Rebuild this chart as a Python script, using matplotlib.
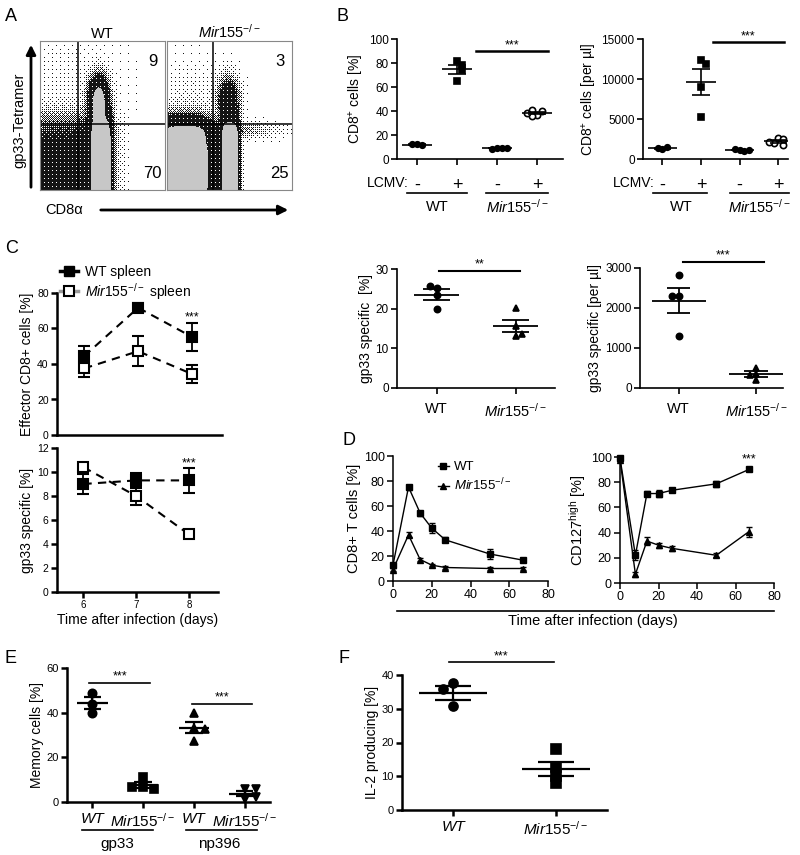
import numpy as np
import matplotlib
matplotlib.use('Agg')
import matplotlib.pyplot as plt
from matplotlib.patches import FancyArrowPatch
from matplotlib.lines import Line2D

plt.rcParams['font.family'] = ['Liberation Sans', 'DejaVu Sans']
plt.rcParams['mathtext.fontset'] = 'custom'
plt.rcParams['mathtext.rm'] = 'Liberation Sans'
plt.rcParams['mathtext.it'] = 'Liberation Sans:italic'
plt.rcParams['mathtext.bf'] = 'Liberation Sans:bold'

MIR = r'$\mathit{Mir155}^{-/-}$'

# ---- A: flow populations (cx, cy, sx, sy, peak, shape power), plot units 0..1
flow_wt = [(0.17, 0.17, 0.33, 0.28, 0.14, 4),
           (0.49, 0.15, 0.07, 0.27, 1.0, 4),
           (0.47, 0.60, 0.045, 0.09, 0.8, 2),
           (0.20, 0.72, 0.30, 0.25, 0.008, 2),
           (0.45, 0.42, 0.08, 0.05, 0.06, 2)]
flow_ko = [(0.13, 0.13, 0.17, 0.26, 1.0, 4),
           (0.505, 0.15, 0.06, 0.26, 1.0, 4),
           (0.37, 0.15, 0.05, 0.25, 0.12, 4),
           (0.49, 0.60, 0.05, 0.09, 0.30, 2),
           (0.18, 0.58, 0.20, 0.18, 0.014, 2),
           (0.28, 0.40, 0.30, 0.035, 0.12, 2)]
gate_x = [0.30, 0.37]
gate_y = 0.44
quad_wt = ['9', '70']
quad_ko = ['3', '25']

# ---- B
lcmv = ['-', '+', '-', '+']
b_pct = [[12.3, 11.6, 12.1], [82, 78, 74, 65], [8.8, 9.2, 8.6, 9.0], [37, 40, 41, 36, 38]]
b_abs = [[1250, 1450, 1350], [12400, 11900, 9000, 5300], [1100, 1000, 1200, 1150],
         [2600, 2500, 2000, 1800, 2100]]

# ---- C (gp33 specific)
gp_pct_wt = [25.1, 25.7, 23.5, 19.9]
gp_pct_ko = [20.1, 15.7, 13.2, 13.7]
gp_abs_wt = [2830, 2300, 2300, 1300]
gp_abs_ko = [510, 360, 330, 190]

days_c = [6, 7, 8]
eff_wt = [44.4, 71.7, 55.2]
eff_wt_err = [6, 2.5, 8]
eff_ko = [37.5, 47.2, 34.3]
eff_ko_err = [5, 8.5, 5]
gp_wt = [9.0, 9.3, 9.3]
gp_wt_err = [0.8, 0.6, 1.05]
gp_ko = [10.4, 8.0, 4.8]
gp_ko_err = [0.35, 0.75, 0.2]

# ---- D
days_d = [0, 8, 14, 20, 27, 50, 67]
cd8_wt = [12.7, 75.2, 54.4, 42.3, 32.9, 21.6, 16.7]
cd8_wt_err = [2, 2, 2, 4, 2, 4, 1]
cd8_ko = [9.2, 36.9, 17.2, 12.7, 10.8, 10, 10]
cd8_ko_err = [1, 2, 1.5, 1, 1, 1, 1]
cd127_wt = [99, 22, 71, 71, 73.6, 78.7, 90.1]
cd127_wt_err = [1, 4, 2, 3, 1.5, 2.5, 1]
cd127_ko = [98, 7, 33.3, 30, 27.5, 22, 40.8]
cd127_ko_err = [1, 2, 3, 2, 2, 1.5, 4]

# ---- E
mem_labels = ['WT', MIR, 'WT', MIR]
mem_groups = ['gp33', 'np396']
mem = [[49, 44, 39.8], [11, 6.9, 5.7, 6.9], [39.8, 33, 32.6, 27.5], [5.6, 5.6, 1.5, 2.2]]

# ---- F
il2_labels = ['WT', MIR]
il2 = [[37.5, 35.8, 30.8], [18, 12.6, 10.1, 7.9]]

W, H = 800, 855
fig = plt.figure(figsize=(8, 8.55), dpi=100)


def px_axes(x0, y0, x1, y1):
    return fig.add_axes([x0 / W, 1 - y1 / H, (x1 - x0) / W, (y1 - y0) / H])


def ftext(x, y, s, **kw):
    fig.text(x / W, 1 - y / H, s, **kw)


def style(ax, lw=1.2, fs=8.5):
    for s in ['top', 'right']:
        ax.spines[s].set_visible(False)
    for s in ['left', 'bottom']:
        ax.spines[s].set_linewidth(lw)
    ax.tick_params(width=lw, length=4, labelsize=fs, pad=2)


def dots(ax, xpos, vals, marker, ms, fc='black', dx=0.1, mean_w=0.3, cap_w=0.17, lw=1.5):
    vals = np.asarray(vals, float)
    lo, hi = ax.get_ylim()
    seq = [0, 1, -1, 2, -2, 3]
    offs = []
    for i, v in enumerate(vals):
        n = int(np.sum(np.abs(vals[:i] - v) < 0.045 * (hi - lo)))
        offs.append(seq[n] * dx)
    m = vals.mean()
    s = vals.std(ddof=1) / np.sqrt(len(vals))
    ax.plot(xpos + np.array(offs), vals, ls='none', marker=marker, ms=ms, mfc=fc, mec='k',
            mew=1.2, zorder=3, clip_on=False)
    ax.hlines(m, xpos - mean_w, xpos + mean_w, color='k', lw=lw, zorder=4)
    ax.hlines([m - s, m + s], xpos - cap_w, xpos + cap_w, color='k', lw=lw, zorder=4)
    ax.vlines(xpos, m - s, m + s, color='k', lw=lw, zorder=4)


def sig(ax, x0, x1, y, txt, fs=9, lw=1.5):
    ax.plot([x0, x1], [y, y], color='k', lw=lw, clip_on=False)
    ax.text((x0 + x1) / 2, y, txt, ha='center', va='bottom', fontsize=fs)


def italic_tick(ax, idx):
    for i in idx:
        ax.get_xticklabels()[i].set_style('italic')


# ================= A =================
def bayer(n):
    m = np.array([[0, 2], [3, 1]])
    while m.shape[0] < n:
        m = np.block([[4 * m, 4 * m + 2], [4 * m + 3, 4 * m + 1]])
    return (m + 0.5) / m.size


def flow(ax, pops, gx, nums, title, nx=125, ny=149):
    X, Y = np.meshgrid((np.arange(nx) + 0.5) / nx, (np.arange(ny) + 0.5) / ny)
    D = np.zeros_like(X)
    for cx, cy, sx, sy, pk, p in pops:
        D += pk * np.exp(-0.5 * (np.abs((X - cx) / sx) ** p + np.abs((Y - cy) / sy) ** p))
    # zebra style: dots thin out at low density, dark edge, light grey core
    thr = np.tile(bayer(8), (ny // 8 + 1, nx // 8 + 1))[:ny, :nx]
    prob = np.clip(D / 0.14, 0, 0.93)
    G = np.where(prob > thr, 0.08, 1.0)
    G = np.where(D >= 0.5, 0.78, G)
    ax.imshow(G, extent=(0, 1, 0, 1), origin='lower', cmap='gray', vmin=0, vmax=1,
              aspect='auto', interpolation='nearest')
    ax.axvline(gx, color='k', lw=1.1)
    ax.axhline(gate_y, color='k', lw=1.1)
    ax.set_xlim(0, 1)
    ax.set_ylim(0, 1)
    ax.set_xticks([])
    ax.set_yticks([])
    for s in ax.spines.values():
        s.set_color('#888888')
        s.set_linewidth(0.8)
    ax.text(0.9, 0.86, nums[0], ha='center', va='center', fontsize=12)
    ax.text(0.9, 0.11, nums[1], ha='center', va='center', fontsize=12)
    ax.set_title(title, fontsize=10.5, pad=2)


axA1 = px_axes(40, 41, 165, 190)
flow(axA1, flow_wt, gate_x[0], quad_wt, 'WT')
axA2 = px_axes(167, 41, 292, 190)
flow(axA2, flow_ko, gate_x[1], quad_ko, MIR)

fig.add_artist(FancyArrowPatch((31 / W, 1 - 190 / H), (31 / W, 1 - 42 / H),
                               transform=fig.transFigure, arrowstyle='-|>',
                               mutation_scale=14, lw=2, color='k'))
ftext(19, 120, 'gp33-Tetramer', rotation=90, ha='center', va='center', fontsize=10.5)
fig.add_artist(FancyArrowPatch((98 / W, 1 - 210 / H), (291 / W, 1 - 210 / H),
                               transform=fig.transFigure, arrowstyle='-|>',
                               mutation_scale=14, lw=2, color='k'))
ftext(64, 210, 'CD8α', ha='center', va='center', fontsize=10.5)

# ================= B =================
b_mk = [('o', 4, 'black'), ('s', 4.5, 'black'), ('o', 4, 'black'), ('o', 4.5, 'white')]


def panel_b(ax, data, ylim, yticks, ylabel, sig_x, sig_y, ul):
    style(ax)
    ax.set_ylim(*ylim)
    ax.set_yticks(yticks)
    for i, vals in enumerate(data):
        mk, ms, fc = b_mk[i]
        dots(ax, i, vals, mk, ms, fc, dx=0.12, mean_w=0.38, cap_w=0.22, lw=1.2)
    ax.set_xticks(range(4))
    ax.set_xticklabels(lcmv, fontsize=13)
    ax.tick_params(axis='x', pad=9)
    ax.set_ylabel(ylabel, fontsize=10, labelpad=2)
    sig(ax, sig_x[0], sig_x[1], sig_y, '***', fs=9, lw=1.8)
    tr = ax.get_xaxis_transform()
    ax.text(-0.2, -0.2, 'LCMV:', transform=tr, ha='right', va='center', fontsize=10)
    ax.plot(ul[0], [-0.283, -0.283], transform=tr, color='k', lw=1.2, clip_on=False)
    ax.plot(ul[1], [-0.283, -0.283], transform=tr, color='k', lw=1.2, clip_on=False)
    ax.text(0.5, -0.4, 'WT', transform=tr, ha='center', va='center', fontsize=10.5)
    ax.text(2.5, -0.4, MIR, transform=tr, ha='center', va='center', fontsize=10.5)


axB1 = px_axes(397, 39, 563, 159)
panel_b(axB1, b_pct, (0, 100), [0, 20, 40, 60, 80, 100], r'CD8$^{+}$ cells [%]',
        (1.48, 3.28), 89.7, [(-0.25, 1.25), (1.73, 3.28)])
axB1.set_xlim(-0.5, 3.65)
axB2 = px_axes(643, 39, 788, 159)
panel_b(axB2, b_abs, (0, 15000), [0, 5000, 10000, 15000], r'CD8$^{+}$ cells [per µl]',
        (1.3, 3.15), 14580, [(-0.23, 1.15), (1.74, 3.28)])
axB2.set_xlim(-0.5, 3.25)

# ================= C time course =================
axC1 = px_axes(57, 293, 222, 435)
axC2 = px_axes(57, 448, 218, 592)
for ax in (axC1, axC2):
    style(ax, lw=1.8, fs=7.5)
    ax.set_xlim(5.5, 8.55)

ekw = dict(color='k', lw=1.5, ls=(0, (4, 3)), capsize=4, elinewidth=1.3, capthick=1.3, ms=6.5, mew=1.5)
axC1.errorbar(days_c, eff_wt, yerr=eff_wt_err, marker='s', mfc='k', mec='k', zorder=3, **ekw)
axC1.errorbar(days_c, eff_ko, yerr=eff_ko_err, marker='s', mfc='white', mec='k', zorder=4, **ekw)
axC1.set_ylim(0, 80)
axC1.set_yticks([0, 20, 40, 60, 80])
axC1.set_xticks([])
axC1.set_ylabel('Effector CD8+ cells [%]', fontsize=10, labelpad=2)
axC1.text(8, 63, '***', ha='center', va='bottom', fontsize=9)
h1 = Line2D([], [], color='k', lw=2.5, marker='s', ms=6.5, mfc='k', mec='k')
h2 = Line2D([], [], color='#999999', lw=2.5, marker='s', ms=6.5, mfc='white', mec='k', mew=1.5)
axC1.legend([h1, h2], ['WT spleen', MIR + ' spleen'], loc='lower left', bbox_to_anchor=(0.02, 0.94),
            frameon=False, fontsize=10, handlelength=1.3, handletextpad=0.5, borderpad=0,
            borderaxespad=0, labelspacing=0.15)

axC2.errorbar(days_c, gp_wt, yerr=gp_wt_err, marker='s', mfc='k', mec='k', zorder=3, **ekw)
axC2.errorbar(days_c, gp_ko, yerr=gp_ko_err, marker='s', mfc='white', mec='k', zorder=4, **ekw)
axC2.set_ylim(0, 12)
axC2.set_yticks([0, 2, 4, 6, 8, 10, 12])
axC2.set_xticks(days_c)
axC2.tick_params(axis='x', labelsize=7)
axC2.set_ylabel('gp33 specific [%]', fontsize=10, labelpad=2)
axC2.set_xlabel('Time after infection (days)', fontsize=10, labelpad=2)
axC2.text(8, 10.2, '***', ha='center', va='bottom', fontsize=9)

# ================= C gp33 scatter =================
axC3 = px_axes(397, 269, 555, 388)
style(axC3)
axC3.set_xlim(-0.5, 1.5)
axC3.set_ylim(0, 30)
axC3.set_yticks([0, 10, 20, 30])
dots(axC3, 0, gp_pct_wt, 'o', 4.5, dx=-0.08, mean_w=0.28, cap_w=0.17, lw=1.3)
dots(axC3, 1, gp_pct_ko, '^', 4.5, dx=0.08, mean_w=0.28, cap_w=0.17, lw=1.3)
axC3.set_xticks([0, 1])
axC3.set_xticklabels(['WT', MIR], fontsize=10.5)
axC3.tick_params(axis='x', pad=6)
axC3.set_ylabel('gp33 specific  [%]', fontsize=10, labelpad=2)
sig(axC3, 0.03, 1.06, 29.6, '**')

axC4 = px_axes(640, 268, 783, 388)
style(axC4)
axC4.set_xlim(-0.5, 1.35)
axC4.set_ylim(0, 3000)
axC4.set_yticks([0, 1000, 2000, 3000])
dots(axC4, 0, gp_abs_wt, 'o', 4.5, dx=-0.08, mean_w=0.35, cap_w=0.15, lw=1.3)
dots(axC4, 1, gp_abs_ko, '^', 4.5, dx=-0.08, mean_w=0.35, cap_w=0.15, lw=1.3)
axC4.set_xticks([0, 1])
axC4.set_xticklabels(['WT', MIR], fontsize=10.5)
axC4.tick_params(axis='x', pad=6)
axC4.set_ylabel('gp33 specific [per µl]', fontsize=10, labelpad=2)
sig(axC4, 0.06, 1.1, 3158, '***')

# ================= D =================
dkw = dict(color='k', lw=1.0, capsize=2.5, elinewidth=1.0, capthick=1.0, ms=5, clip_on=False)
axD1 = px_axes(393, 456, 548, 581)
axD2 = px_axes(620, 457, 774, 583)
for ax in (axD1, axD2):
    style(ax, lw=1.1, fs=9)
    ax.set_xlim(0, 80)
    ax.set_ylim(0, 100)
    ax.set_xticks([0, 20, 40, 60, 80])
    ax.set_yticks([0, 20, 40, 60, 80, 100])
axD1.errorbar(days_d, cd8_wt, yerr=cd8_wt_err, marker='s', **dkw)
axD1.errorbar(days_d, cd8_ko, yerr=cd8_ko_err, marker='^', **dkw)
axD1.set_ylabel('CD8+ T cells [%]', fontsize=10.5, labelpad=2)
hw = Line2D([], [], color='k', lw=1, marker='s', ms=5)
hk = Line2D([], [], color='k', lw=1, marker='^', ms=5)
axD1.legend([hw, hk], ['WT', MIR], loc='upper left', bbox_to_anchor=(0.29, 0.96), frameon=False,
            fontsize=9.5, handlelength=0.8, handletextpad=0.4, borderpad=0, borderaxespad=0,
            labelspacing=0.3)
axD2.errorbar(days_d, cd127_wt, yerr=cd127_wt_err, marker='s', **dkw)
axD2.errorbar(days_d, cd127_ko, yerr=cd127_ko_err, marker='^', **dkw)
axD2.set_ylabel(r'CD127$^{\rm high}$ [%]', fontsize=10.5, labelpad=2)
axD2.text(67, 93, '***', ha='center', va='bottom', fontsize=9)
fig.add_artist(Line2D([397 / W, 774 / W], [1 - 611 / H, 1 - 611 / H], color='k', lw=1.2))
ftext(593, 621, 'Time after infection (days)', ha='center', va='center', fontsize=10.5)

# ================= E =================
axE = px_axes(67, 668, 270, 802)
style(axE, lw=1.8, fs=8)
axE.set_xlim(-0.5, 3.5)
axE.set_ylim(0, 60)
axE.set_yticks([0, 20, 40, 60])
for i, (vals, mk) in enumerate(zip(mem, ['o', 's', '^', 'v'])):
    dots(axE, i, vals, mk, 6, dx=0.22, mean_w=0.3, cap_w=0.17, lw=1.6)
axE.set_xticks(range(4))
axE.set_xticklabels(mem_labels, fontsize=11)
italic_tick(axE, [0, 2])
axE.tick_params(axis='x', pad=3)
axE.set_ylabel('Memory cells [%]', fontsize=10, labelpad=2)
sig(axE, -0.06, 1.14, 53.5, '***', lw=1.2)
sig(axE, 1.96, 3.14, 44, '***', lw=1.2)
trE = axE.get_xaxis_transform()
axE.plot([-0.2, 1.2], [-0.21, -0.21], transform=trE, color='k', lw=1.2, clip_on=False)
axE.plot([1.84, 3.24], [-0.21, -0.21], transform=trE, color='k', lw=1.2, clip_on=False)
axE.text(0.5, -0.31, mem_groups[0], transform=trE, ha='center', va='center', fontsize=11)
axE.text(2.5, -0.31, mem_groups[1], transform=trE, ha='center', va='center', fontsize=11)

# ================= F =================
axF = px_axes(402, 675, 607, 810)
style(axF, lw=1.8, fs=8)
axF.set_xlim(-0.5, 1.5)
axF.set_ylim(0, 40)
axF.set_yticks([0, 10, 20, 30, 40])
dots(axF, 0, il2[0], 'o', 6.5, dx=-0.1, mean_w=0.33, cap_w=0.175, lw=1.6)
dots(axF, 1, il2[1], 's', 6.5, dx=0.1, mean_w=0.33, cap_w=0.175, lw=1.6)
axF.set_xticks([0, 1])
axF.set_xticklabels(il2_labels, fontsize=11)
italic_tick(axF, [0])
axF.tick_params(axis='x', pad=3)
axF.set_ylabel('IL-2 producing [%]', fontsize=10, labelpad=2)
sig(axF, -0.04, 0.98, 43.8, '***', lw=1.2)

# panel letters
for lab, x, y in [('A', 5, 8), ('B', 337, 8), ('C', 5, 240), ('D', 342, 432), ('E', 5, 650), ('F', 338, 650)]:
    ftext(x, y, lab, ha='left', va='top', fontsize=13)

fig.savefig('out.png', dpi=100)
